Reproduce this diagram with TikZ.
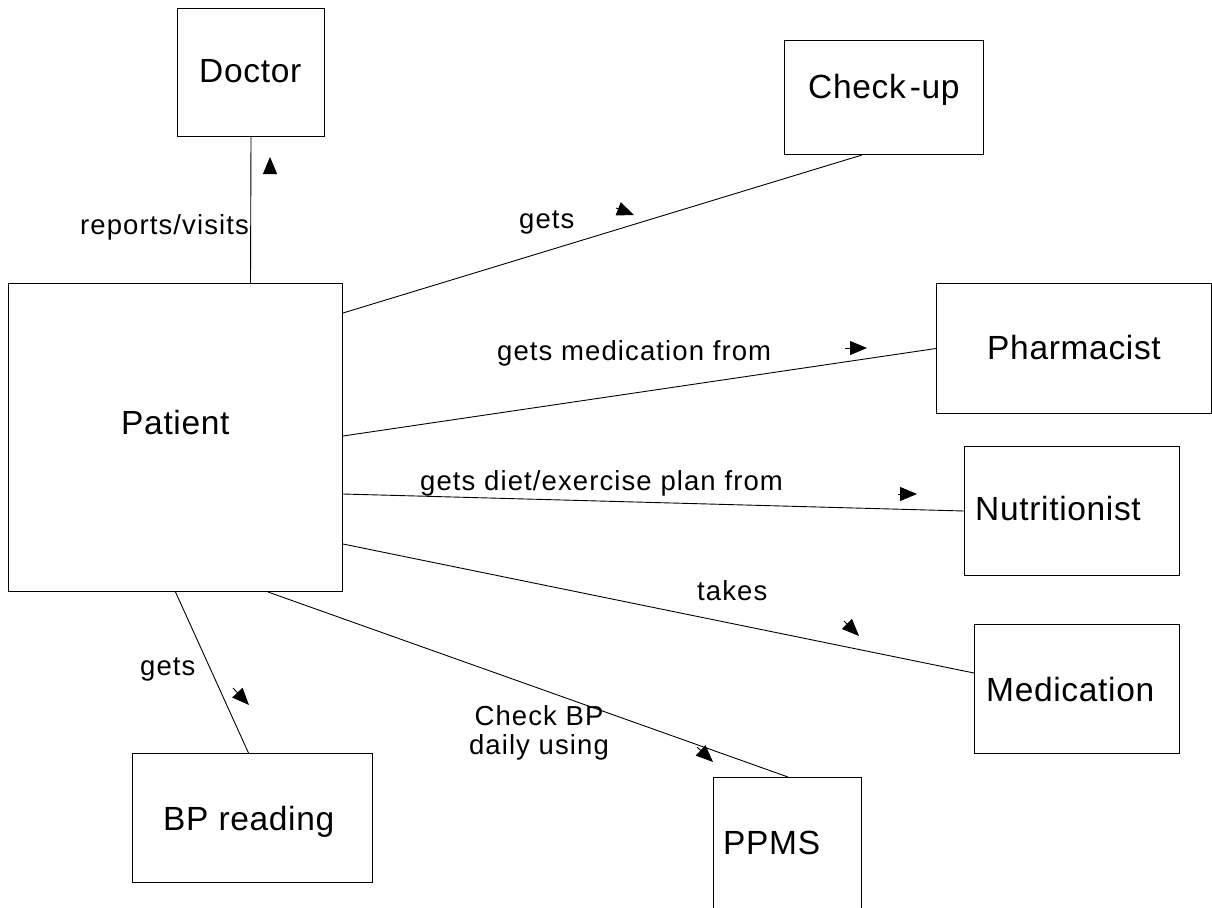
\documentclass[tikz,border=0pt]{standalone}
\usepackage{fontspec}
\setmainfont{Liberation Sans}
\usetikzlibrary{arrows.meta}
\newfontfamily\boxfont[LetterSpace=2]{Liberation Sans}
\newfontfamily\relfont[LetterSpace=4]{Liberation Sans}
\begin{document}
\begin{tikzpicture}[x=1pt,y=-1pt,
  entity/.style={draw,line width=1pt,inner sep=0pt,anchor=north west},
  boxtext/.style={anchor=base west,inner sep=0pt,font=\boxfont\fontsize{33.5}{36}\selectfont},
  reltext/.style={anchor=base west,inner sep=0pt,font=\relfont\fontsize{27.5}{29}\selectfont},
  link/.style={line width=0.9pt},
  dirmark/.style={line width=0.9pt,-{Triangle[length=17pt,width=14pt]}}]
\useasboundingbox (0,0) rectangle (1212,907);
\clip (0,0) rectangle (1212,907);

% entity boxes
\node[entity,minimum width=334pt,minimum height=308pt] (patient) at (8,283) {};
\node[entity,minimum width=147pt,minimum height=128pt] (doctor) at (177,8) {};
\node[entity,minimum width=199pt,minimum height=114pt] (checkup) at (784,40) {};
\node[entity,minimum width=275pt,minimum height=130pt] (pharm) at (936,283) {};
\node[entity,minimum width=215pt,minimum height=129pt] (nutri) at (964,446) {};
\node[entity,minimum width=205pt,minimum height=129pt] (medic) at (974,624) {};
\node[entity,minimum width=240pt,minimum height=129pt] (bpread) at (132,753) {};
\node[entity,minimum width=148pt,minimum height=170pt] (ppms) at (713,777) {};

% entity names
\node[boxtext] (patient-t) at (121,434) {Patient};
\node[boxtext] (doctor-t) at (199,82) {Doctor};
\node[boxtext] (checkup-t) at (808,98) {Check\hspace{4pt}-up};
\node[boxtext] (pharm-t) at (987,359) {Pharmacist};
\node[boxtext] (nutri-t) at (975,520) {Nutritionist};
\node[boxtext] (medic-t) at (986,701) {Medication};
\node[boxtext] (bpread-t) at (163,830) {BP reading};
\node[boxtext] (ppms-t) at (723,854) {PPMS};

% relationships
\draw[link] ([xshift=75pt]patient.north) -- (doctor.south);
\draw[link] ([yshift=-30pt]patient.north east) -- ([xshift=78pt]checkup.south west);
\draw[link] ([yshift=-153pt]patient.north east) -- (pharm.west);
\draw[link] ([yshift=-211pt]patient.north east) -- (nutri.west);
\draw[link] ([yshift=48pt]patient.south east) -- ([yshift=-49pt]medic.north west);
\draw[link] ([xshift=-75pt]patient.south east) -- ([xshift=75pt]ppms.north west);
\draw[link] (patient.south) -- ([xshift=-4pt]bpread.north);

% direction markers
\draw[dirmark] (270,173) -- (270,157);
\draw[dirmark] (616,208) -- (634,215);
\draw[dirmark] (845,348) -- (867,348);
\draw[dirmark] (898,494) -- (917,494);
\draw[dirmark] (844,621) -- (859,636);
\draw[dirmark] (233,688) -- (249,705);
\draw[dirmark] (697,747) -- (713,762);

% relationship labels
\node[reltext] (l-doctor) at (80,234) {reports/visits};
\node[reltext] (l-checkup) at (519,228) {gets};
\node[reltext] (l-pharm) at (497,360) {gets medication from};
\node[reltext] (l-nutri) at (420,490) {gets diet/exercise plan from};
\node[reltext] (l-medic) at (697,600) {takes};
\node[reltext,anchor=base,align=center] (l-ppms) at (539,754) {Check BP\\daily using};
\node[reltext] (l-bpread) at (140,675) {gets};
\end{tikzpicture}
\end{document}
